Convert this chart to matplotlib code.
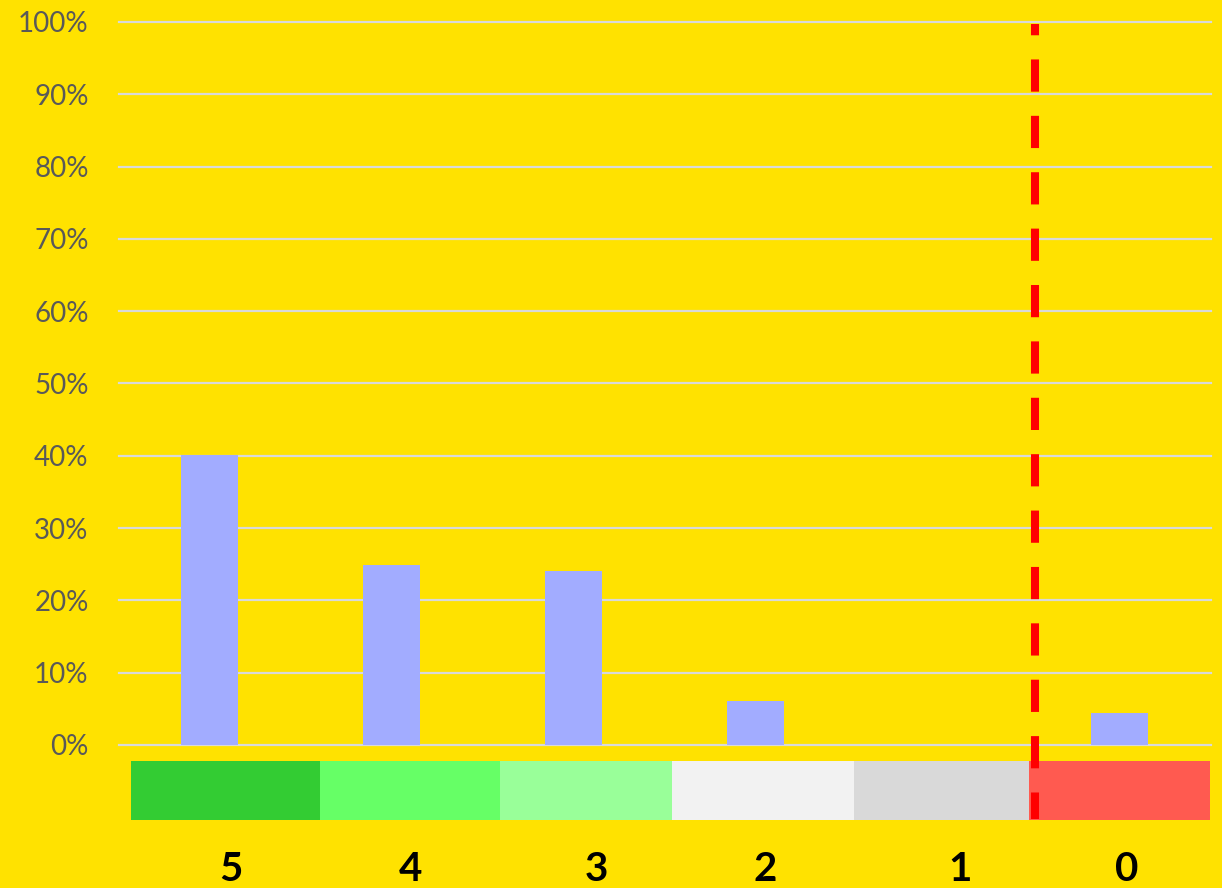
import matplotlib
matplotlib.use("Agg")
import matplotlib.pyplot as plt
from matplotlib.patches import Rectangle
from matplotlib.ticker import FuncFormatter

# ---- data ----
categories = ["5", "4", "3", "2", "1", "0"]
values = [0.401, 0.249, 0.241, 0.061, 0.0, 0.044]
band_edges = [-0.431, 0.607, 1.596, 2.541, 3.541, 4.503, 5.497]
band_colors = ["#33CC33", "#66FF66", "#99FF99", "#F2F2F2", "#D9D9D9", "#FF5A50"]
label_x = [0.118, 1.102, 2.124, 3.052, 4.124, 5.041]
cutoff_x = 4.536

BG = "#FFE200"
BAR = "#A2ACFF"

fig = plt.figure(figsize=(12.22, 8.88), dpi=100, facecolor=BG)
ax = fig.add_axes([118.5 / 1222, 0, 1092 / 1222, 1 - 22 / 888])
ax.set_facecolor(BG)

x = list(range(len(categories)))
ax.set_xlim(-0.5, 5.5)
ax.set_ylim(-0.1978, 1.0)

yt = [i / 10 for i in range(11)]
ax.set_yticks(yt)
ax.yaxis.set_major_formatter(FuncFormatter(lambda v, p: f"{v*100:.0f}%"))
for t in yt:
    ax.axhline(t, color="#D9D9D9", lw=1.6, zorder=1, clip_on=False)

ax.bar(x, values, width=0.313, color=BAR, zorder=2)

for i in range(len(band_colors)):
    ax.add_patch(Rectangle((band_edges[i], -0.104), band_edges[i + 1] - band_edges[i], 0.082,
                           facecolor=band_colors[i], edgecolor="none", zorder=3, clip_on=False))

ax.plot([cutoff_x, cutoff_x], [0.997, -0.103], color="#FF0000", lw=5.8,
        ls=(2.6, (4, 3)), zorder=4, solid_capstyle="butt", dash_capstyle="butt")

ax.set_xticks([])
for lx, lab in zip(label_x, categories):
    ax.text(lx, -0.172, lab, ha="center", va="center", fontsize=29,
            fontweight="bold", color="black", family=["Lato", "DejaVu Sans"])

ax.tick_params(axis="y", length=0, pad=21.5, labelsize=20, labelcolor="#595959")
for lbl in ax.get_yticklabels():
    lbl.set_family(["Lato", "DejaVu Sans"])
for s in ax.spines.values():
    s.set_visible(False)

fig.savefig("out.png", dpi=100, facecolor=BG)
